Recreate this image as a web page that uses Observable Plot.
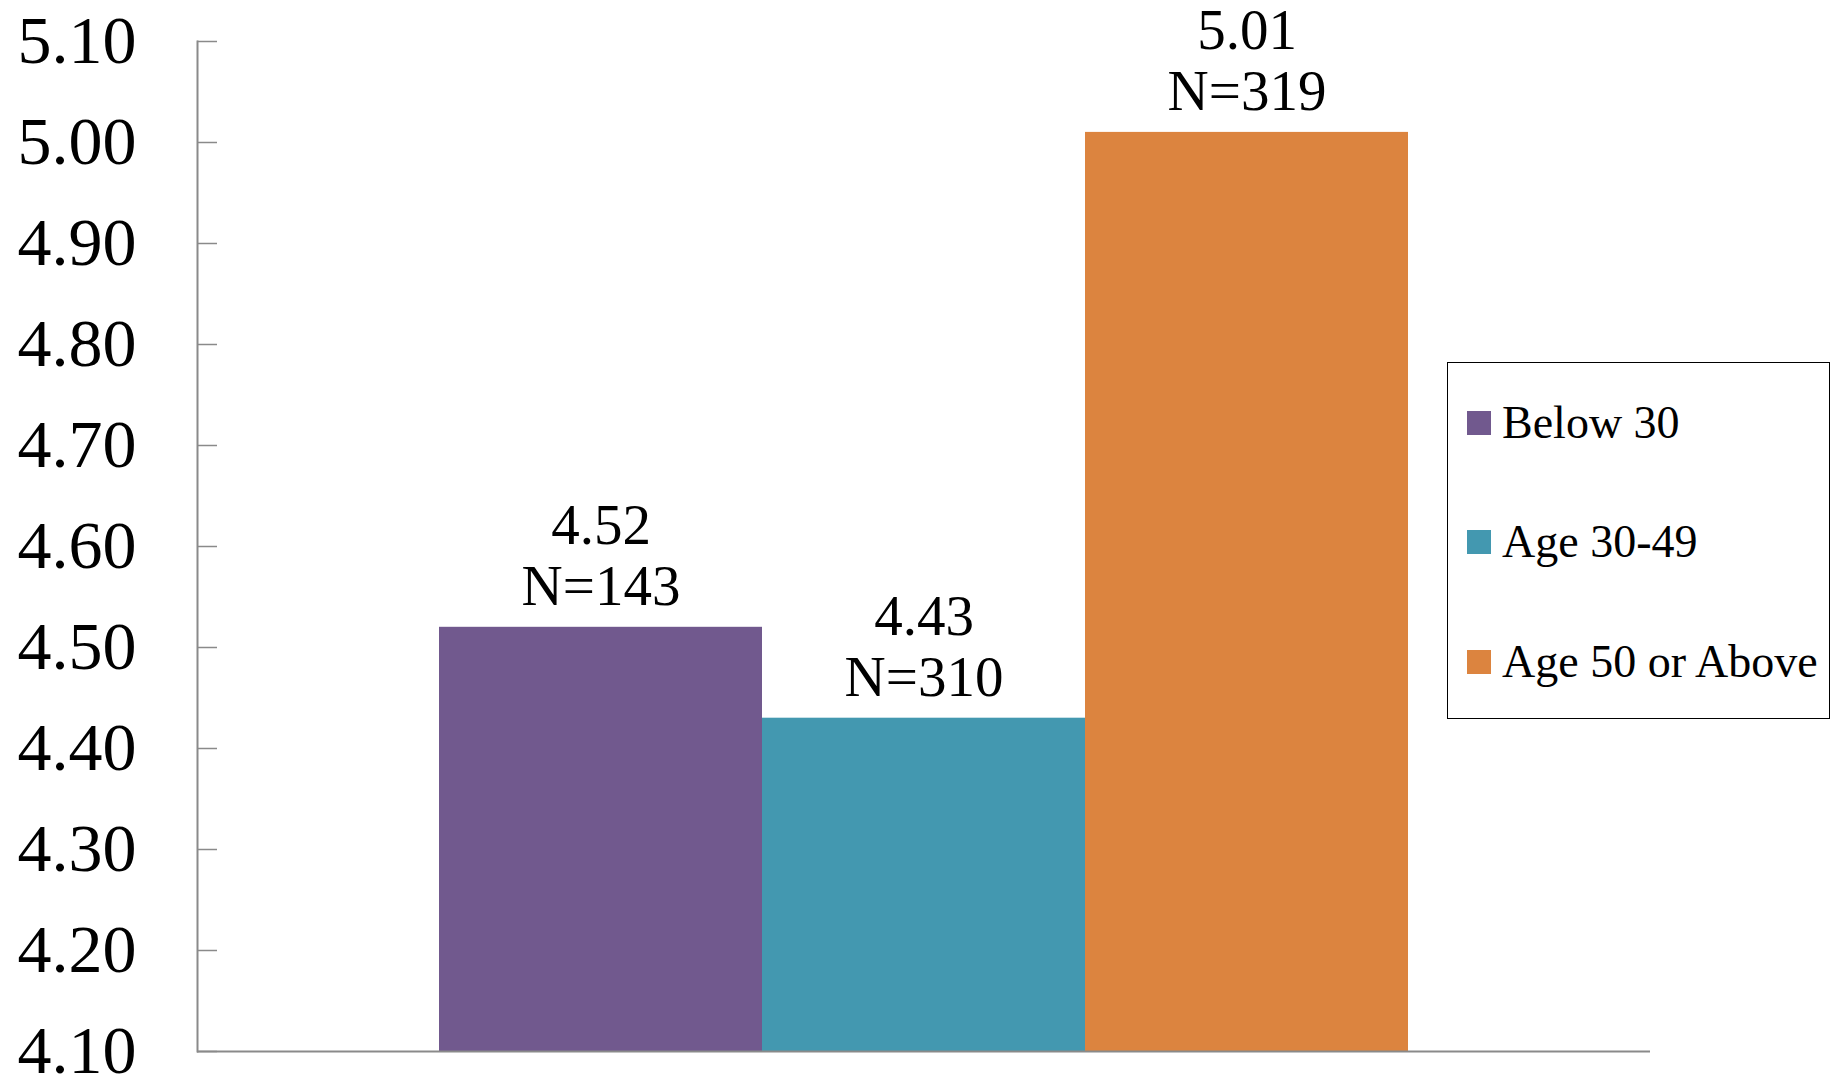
<!DOCTYPE html>
<html>
<head>
<meta charset="utf-8">
<script src="https://cdn.jsdelivr.net/npm/d3@7"></script>
<script src="https://cdn.jsdelivr.net/npm/@observablehq/plot@0.6"></script>
<style>
  html, body { margin: 0; padding: 0; background: #fff; }
  #wrap { position: relative; width: 1839px; height: 1076px; }
  #legend { position: absolute; left: 1447px; top: 362px; width: 381px; height: 355px;
            border: 1.5px solid #000; background: #fff; font-family: "Liberation Serif", serif; }
  .item { position: absolute; left: 19px; height: 40px; display: flex; align-items: center; }
  .sw { width: 24px; height: 24px; margin-right: 11px; }
  .lab { font-size: 46px; color: #000; white-space: nowrap; line-height: 1; }
</style>
</head>
<body>
<div id="wrap"></div>
<script>
const groups = ["Below 30", "Age 30-49", "Age 50 or Above"];
const means = [4.52, 4.43, 5.01];
const counts = [143, 310, 319];
const colors = ["#71598e", "#4398b0", "#dc843f"];
const yTicks = [4.1, 4.2, 4.3, 4.4, 4.5, 4.6, 4.7, 4.8, 4.9, 5.0, 5.1];

const data = groups.map((g, i) => ({group: g, mean: means[i], n: counts[i],
  label: means[i].toFixed(2) + "\nN=" + counts[i]}));

const chart = Plot.plot({
  width: 1839,
  height: 1076,
  marginLeft: 197,
  marginRight: 189,
  marginTop: 41,
  marginBottom: 25,
  style: {fontFamily: "Liberation Serif, serif", background: "#fff"},
  x: {domain: groups, padding: 0, insetLeft: 241.5, insetRight: 241.5, axis: null},
  y: {domain: [4.1, 5.1], axis: null},
  color: {domain: groups, range: colors},
  marks: [
    Plot.barY(data, {x: "group", y1: 4.1, y2: "mean", fill: "group"}),
    Plot.text(data, {x: "group", y: "mean", text: "label", lineAnchor: "bottom",
      dy: -22, lineHeight: 1.08, fontSize: 57, fill: "#000"}),
    Plot.axisY(yTicks, {label: null, tickSize: -20, tickPadding: 81, stroke: "#8a8a8a", strokeWidth: 1.5,
      fontSize: 68, fill: "#000", tickFormat: d => d.toFixed(2)}),
    Plot.frame({anchor: "left", stroke: "#8a8a8a", strokeWidth: 2}),
    Plot.ruleY([4.1], {stroke: "#8a8a8a", strokeWidth: 2})
  ]
});
const wrap = document.getElementById("wrap");
wrap.appendChild(chart);

const legend = document.createElement("div");
legend.id = "legend";
const tops = [39.5, 159, 279];
groups.forEach((g, i) => {
  const it = document.createElement("div");
  it.className = "item";
  it.style.top = (tops[i]) + "px";
  const sw = document.createElement("div");
  sw.className = "sw"; sw.style.background = colors[i];
  const lab = document.createElement("span");
  lab.className = "lab"; lab.textContent = g;
  it.appendChild(sw); it.appendChild(lab);
  legend.appendChild(it);
});
wrap.appendChild(legend);
</script>
</body>
</html>
